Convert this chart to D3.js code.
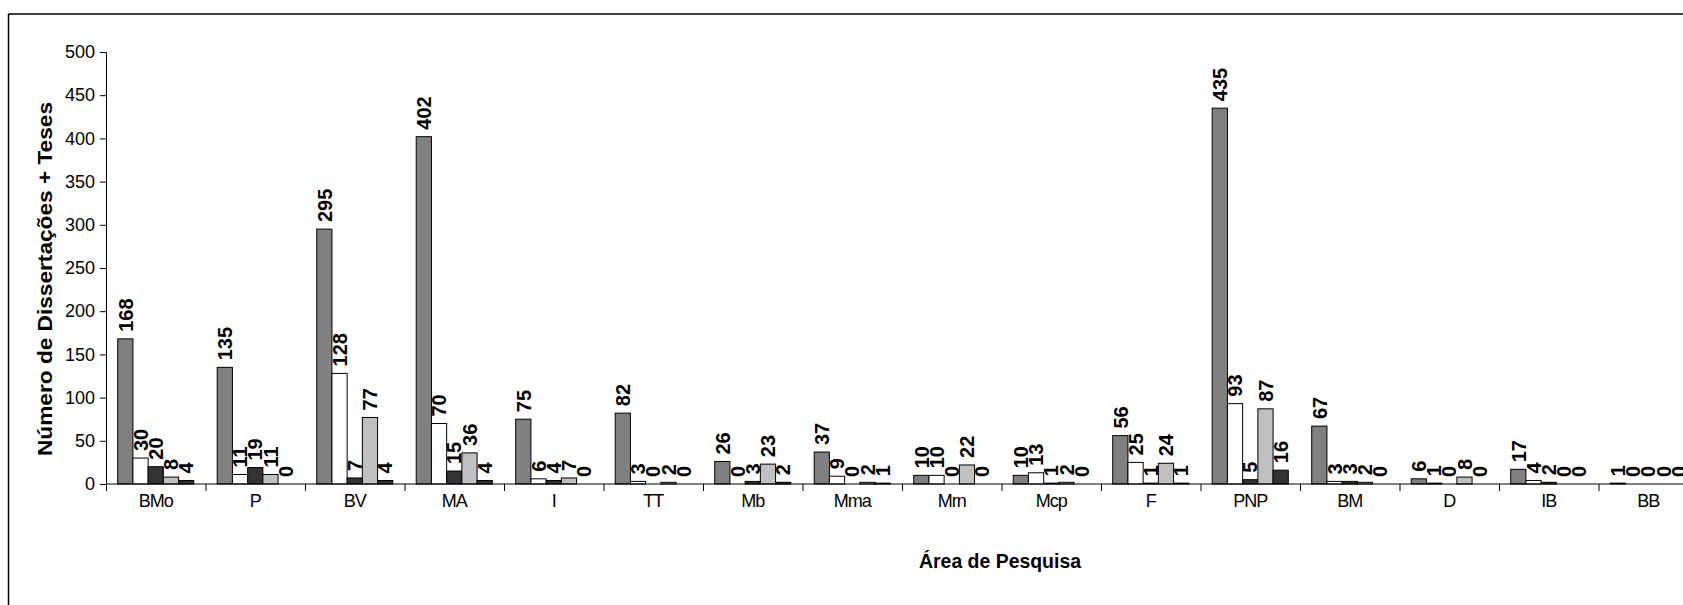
<!DOCTYPE html>
<meta charset="utf-8">
<head>
    <title>Dissertações + Teses por Área de Pesquisa</title>
</head>

<style>
    body { margin: 0; background: #fff; }
    .tick text { font-family: "Liberation Sans", Arial, sans-serif; fill: #000; }
    .vlabel { font-family: "Liberation Sans", Arial, sans-serif; font-weight: bold; font-size: 20px; }
    .axtitle { font-family: "Liberation Sans", Arial, sans-serif; font-weight: bold; }
</style>

<script src="https://d3js.org/d3.v7.min.js"></script>

<div id="chart"></div>

<script>

    // data
    var categories = ["BMo", "P", "BV", "MA", "I", "TT", "Mb", "Mma", "Mrn", "Mcp", "F", "PNP", "BM", "D", "IB", "BB"];
    var serie1 = [168, 135, 295, 402, 75, 82, 26, 37, 10, 10, 56, 435, 67, 6, 17, 1];
    var serie2 = [30, 11, 128, 70, 6, 3, 0, 9, 10, 13, 25, 93, 3, 1, 4, 0];
    var serie3 = [20, 19, 7, 15, 4, 0, 3, 0, 0, 1, 1, 5, 3, 0, 2, 0];
    var serie4 = [8, 11, 77, 36, 7, 2, 23, 2, 22, 2, 24, 87, 2, 8, 0, 0];
    var serie5 = [4, 0, 4, 4, 0, 0, 2, 1, 0, 0, 1, 16, 0, 0, 0, 0];
    var seriesNames = ["s1", "s2", "s3", "s4", "s5"];
    var yTicks = [0, 50, 100, 150, 200, 250, 300, 350, 400, 450, 500];

    var allSeries = [serie1, serie2, serie3, serie4, serie5];
    var colors = ["#808080", "#ffffff", "#333333", "#c0c0c0", "#333333"];

    var W = 1683, H = 605;
    var plotLeft = 106, plotTop = 52, plotBottom = 484, step = 99.5;

    var svg = d3.select("#chart")
        .append("svg")
        .attr("width", W)
        .attr("height", H);

    // outer frame (only top and left edges are visible)
    svg.append("line").attr("x1", 8.5).attr("x2", W).attr("y1", 14).attr("y2", 14)
        .attr("stroke", "#000").attr("stroke-width", 1.5);
    svg.append("line").attr("x1", 8.5).attr("x2", 8.5).attr("y1", 14).attr("y2", H)
        .attr("stroke", "#000").attr("stroke-width", 1.5);

    // scales
    var x0 = d3.scaleBand()
        .domain(categories)
        .range([plotLeft, plotLeft + step * categories.length])
        .paddingInner(0).paddingOuter(0);

    var x1 = d3.scaleBand()
        .domain(seriesNames)
        .range([0, x0.bandwidth()])
        .paddingInner(0).paddingOuter(0.77);

    var y = d3.scaleLinear()
        .domain([0, 500])
        .range([plotBottom, plotTop]);

    // y axis
    var yAxis = svg.append("g")
        .attr("transform", "translate(" + plotLeft + ",0)")
        .call(d3.axisLeft(y).tickValues(yTicks).tickSize(6).tickPadding(5));
    yAxis.select(".domain").attr("stroke", "#000");
    yAxis.selectAll(".tick text").style("font-size", "18px");

    // bars
    var data = categories.map(function (c, i) {
        return { cat: c, vals: allSeries.map(function (s, k) { return { k: k, v: s[i] }; }) };
    });

    var groups = svg.append("g")
        .selectAll("g")
        .data(data)
        .enter()
        .append("g")
        .attr("transform", function (d) { return "translate(" + x0(d.cat) + ",0)"; });

    groups.selectAll("rect")
        .data(function (d) { return d.vals; })
        .enter()
        .append("rect")
        .attr("x", function (d) { return x1(seriesNames[d.k]); })
        .attr("y", function (d) { return y(d.v); })
        .attr("width", x1.bandwidth())
        .attr("height", function (d) { return plotBottom - y(d.v); })
        .attr("fill", function (d) { return colors[d.k]; })
        .attr("stroke", "#000")
        .attr("stroke-width", 1);

    // value labels, rotated
    groups.selectAll("text")
        .data(function (d) { return d.vals; })
        .enter()
        .append("text")
        .attr("class", "vlabel")
        .attr("transform", function (d) {
            return "translate(" + (x1(seriesNames[d.k]) + x1.bandwidth() / 2) + "," + (y(d.v) - 7) + ") rotate(-90)";
        })
        .attr("dy", "0.36em")
        .attr("text-anchor", "start")
        .text(function (d) { return d.v; });

    // x axis: baseline, separator ticks, labels
    svg.append("line")
        .attr("x1", plotLeft).attr("x2", W)
        .attr("y1", plotBottom).attr("y2", plotBottom)
        .attr("stroke", "#000");

    svg.append("g")
        .selectAll("line")
        .data(categories)
        .enter()
        .append("line")
        .attr("x1", function (d) { return x0(d) + 0.5; })
        .attr("x2", function (d) { return x0(d) + 0.5; })
        .attr("y1", plotBottom).attr("y2", plotBottom + 7)
        .attr("stroke", "#000");

    var xAxis = svg.append("g")
        .attr("transform", "translate(0," + plotBottom + ")")
        .call(d3.axisBottom(x0).tickSize(0).tickPadding(10));
    xAxis.select(".domain").remove();
    xAxis.selectAll(".tick text")
        .style("font-size", "18px")
        .style("letter-spacing", "-1px");

    // axis titles
    svg.append("text")
        .attr("class", "axtitle")
        .attr("transform", "translate(52,279) rotate(-90)")
        .attr("text-anchor", "middle")
        .attr("font-size", "20px")
        .attr("textLength", 354)
        .attr("lengthAdjust", "spacingAndGlyphs")
        .text("Número de Dissertações + Teses");

    svg.append("text")
        .attr("class", "axtitle")
        .attr("x", 1000)
        .attr("y", 568)
        .attr("text-anchor", "middle")
        .attr("font-size", "20px")
        .attr("textLength", 162)
        .attr("lengthAdjust", "spacingAndGlyphs")
        .text("Área de Pesquisa");

</script>
